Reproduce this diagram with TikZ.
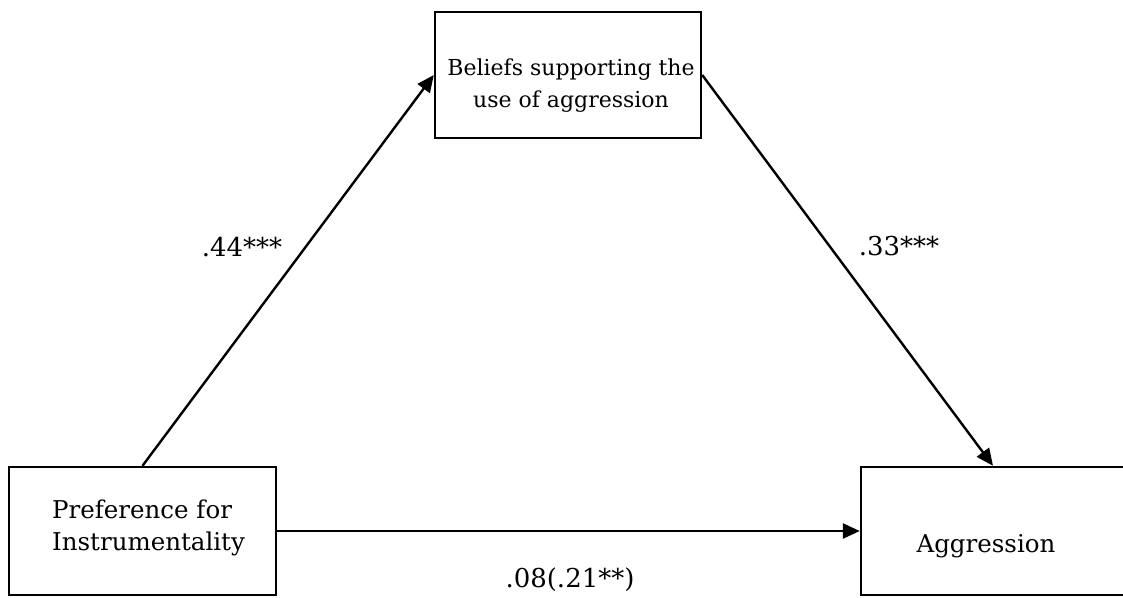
\documentclass[tikz,border=0pt]{standalone}
\usepackage{fontspec}
\setmainfont{DejaVu Serif}
\usetikzlibrary{arrows.meta}
\begin{document}
\begin{tikzpicture}[x=1pt,y=1pt,
  box/.style={draw=black, line width=2.4pt, inner sep=0pt},
  boxtext/.style={inner sep=0pt, font=\fontsize{24.5}{32}\selectfont},
  coef/.style={inner sep=0pt, anchor=base, font=\fontsize{26}{30}\selectfont},
  link/.style={line width=2.4pt, -{Triangle[length=17pt,width=15pt]}}]
\useasboundingbox (0,0) rectangle (1123,597);
\clip (0,0) rectangle (1123,597);
% boxes
\node[box, minimum width=266pt, minimum height=126pt] (bel) at (568,522) {};
\node[box, minimum width=267pt, minimum height=128pt] (pref) at (142.5,66) {};
\node[box, minimum width=264pt, minimum height=128pt] (agg) at (993,66) {};
% box texts
\node[boxtext, align=center, font=\fontsize{22}{32}\selectfont] (belt) at (571,511.4) {Beliefs supporting the\\use of aggression};
\node[boxtext, align=left, anchor=west] (preft) at (52,69.4) {Preference for\\Instrumentality};
\node[boxtext] (aggt) at (986,51) {Aggression};
% connectors
\draw[link] (pref.north) -- (bel.west);
\draw[link] (bel.east) -- (agg.north);
\draw[link] (pref.east) -- (agg.west);
% coefficients
\node[coef] (c1) at (242,340) {.44***};
\node[coef] (c2) at (899,341) {.33***};
\node[coef] (c3) at (570,10) {.08(.21**)};
\end{tikzpicture}
\end{document}
